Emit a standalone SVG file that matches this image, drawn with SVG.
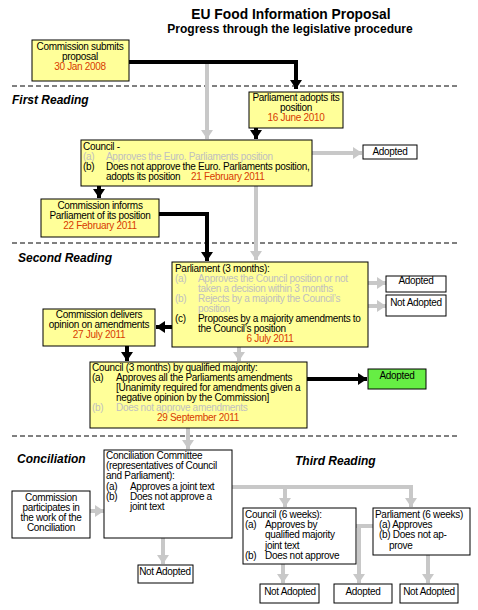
<svg xmlns="http://www.w3.org/2000/svg" width="478" height="610" viewBox="0 0 478 610">
<defs>
<style>
text{font-family:"Liberation Sans",Arial,sans-serif;font-size:10px;fill:#000;letter-spacing:-0.3px}
.t1{font-size:13.8px;font-weight:bold;letter-spacing:0}
.t2{font-size:12px;font-weight:bold;letter-spacing:0}
.sec{font-size:12px;font-weight:bold;font-style:italic;letter-spacing:0}
.c{text-anchor:middle}
.red{fill:#d83b01}
.g{fill:#c0c0c0}
.y{fill:#ffff99;stroke:#000;stroke-width:1}
.w{fill:#fff;stroke:#000;stroke-width:1}
.gr{fill:#66ee44;stroke:#000;stroke-width:1}
.bl{fill:none;stroke:#000;stroke-width:4}
.gl{fill:none;stroke:#c8c8c8;stroke-width:4}
.dash{stroke:#000;stroke-width:1;stroke-dasharray:5,3}
</style>
<marker id="ab" markerUnits="userSpaceOnUse" markerWidth="14" markerHeight="14" refX="9" refY="6" orient="auto"><path d="M0,0 L9,6 L0,12 Z" fill="#000"/></marker>
<marker id="ag" markerUnits="userSpaceOnUse" markerWidth="14" markerHeight="14" refX="9" refY="6" orient="auto"><path d="M0,0 L9,6 L0,12 Z" fill="#c8c8c8"/></marker>
</defs>
<rect width="478" height="610" fill="#fff"/>
<text class="t1 c" x="291" y="19">EU Food Information Proposal</text>
<text class="t2 c" x="290" y="33">Progress through the legislative procedure</text>
<line class="dash" x1="12" y1="86" x2="460" y2="86"/>
<line class="dash" x1="12" y1="243" x2="460" y2="243"/>
<line class="dash" x1="12" y1="436" x2="460" y2="436"/>
<text class="sec" x="12" y="104">First Reading</text>
<text class="sec" x="18" y="262">Second Reading</text>
<text class="sec" x="17" y="463">Conciliation</text>
<text class="sec" x="295" y="465">Third Reading</text>
<g id="connectors">
<path class="gl" d="M207,64 V139" marker-end="url(#ag)"/>
<path class="bl" d="M119,62 H296 V89" marker-end="url(#ab)"/>
<path class="bl" d="M256,116 V139" marker-end="url(#ab)"/>
<path class="gl" d="M312,153 H362" marker-end="url(#ag)"/>
<path class="bl" d="M99,180 V198" marker-end="url(#ab)"/>
<path class="bl" d="M155,214 H207 V261" marker-end="url(#ab)"/>
<path class="gl" d="M256,186 V260" marker-end="url(#ag)"/>
<path class="gl" d="M360,283 H386" marker-end="url(#ag)"/>
<path class="gl" d="M360,306 H386" marker-end="url(#ag)"/>
<path class="bl" d="M182,327 H156" marker-end="url(#ab)"/>
<path class="bl" d="M127,345 V361" marker-end="url(#ab)"/>
<path class="gl" d="M239,344 V361" marker-end="url(#ag)"/>
<path class="bl" d="M300,379 H367" marker-end="url(#ab)"/>
<path class="gl" d="M188,428 V449" marker-end="url(#ag)"/>
<path class="gl" d="M88,511 H104" marker-end="url(#ag)"/>
<path class="gl" d="M163,520 V564" marker-end="url(#ag)"/>
<path class="gl" d="M222,487 H411 V507" marker-end="url(#ag)"/>
<path class="gl" d="M285,487 V507" marker-end="url(#ag)"/>
<path class="gl" d="M340,526 H378"/>
<path class="gl" d="M359,526 V583" marker-end="url(#ag)"/>
<path class="gl" d="M283,564 V583" marker-end="url(#ag)"/>
<path class="gl" d="M428,537 V583" marker-end="url(#ag)"/>
</g>
<g id="n1"><rect class="y" x="32" y="40" width="97" height="41"/>
<text class="c" x="80" y="50">Commission submits</text><text class="c" x="80" y="60">proposal</text><text class="c red" x="80" y="70">30 Jan 2008</text></g>
<g id="n2"><rect class="y" x="249" y="92" width="94" height="36"/>
<text class="c" x="296" y="101">Parliament adopts its</text><text class="c" x="296" y="111">position</text><text class="c red" x="296" y="121">16 June 2010</text></g>
<g id="n3"><rect class="y" x="81" y="140" width="231" height="46"/>
<text x="83" y="150">Council  -</text>
<text class="g" x="83" y="160">(a)</text><text class="g" x="106" y="160">Approves the Euro. Parliaments position</text>
<text x="83" y="170">(b)</text><text x="106" y="170">Does not approve the Euro. Parliaments position,</text>
<text x="106" y="180">adopts its position</text><text class="red" x="191" y="180">21 February 2011</text></g>
<g id="n4"><rect class="w" x="363" y="145" width="54" height="14"/><text class="c" x="390" y="155">Adopted</text></g>
<g id="n5"><rect class="y" x="41" y="199" width="118" height="38"/>
<text class="c" x="100" y="209">Commission informs</text><text class="c" x="100" y="219">Parliament of its position</text><text class="c red" x="100" y="229">22 February 2011</text></g>
<g id="n6"><rect class="y" x="172" y="262" width="196" height="85"/>
<text x="175" y="272">Parliament (3 months):</text>
<text class="g" x="175" y="282">(a)</text><text class="g" x="198" y="282">Approves the Council position or not</text>
<text class="g" x="198" y="292">taken a decision within 3 months</text>
<text class="g" x="175" y="302">(b)</text><text class="g" x="198" y="302">Rejects by a majority the Council’s</text>
<text class="g" x="198" y="312">position</text>
<text x="175" y="322">(c)</text><text x="198" y="322">Proposes by a majority amendments to</text>
<text x="198" y="332">the Council’s position</text>
<text class="c red" x="270" y="342">6 July 2011</text></g>
<g id="n7"><rect class="w" x="386" y="276" width="60" height="16"/><text class="c" x="416" y="284">Adopted</text></g>
<g id="n8"><rect class="w" x="386" y="295" width="60" height="21"/><text class="c" x="416" y="306">Not Adopted</text></g>
<g id="n9"><rect class="y" x="43" y="309" width="112" height="37"/>
<text class="c" x="99" y="318">Commission delivers</text><text class="c" x="99" y="328">opinion on amendments</text><text class="c red" x="99" y="338">27 July 2011</text></g>
<g id="n10"><rect class="y" x="90" y="362" width="217" height="66"/>
<text x="92" y="371">Council (3 months) by qualified majority:</text>
<text x="92" y="381">(a)</text><text x="116" y="381">Approves all the Parliaments amendments</text>
<text x="116" y="391">[Unanimity required for amendments given a</text>
<text x="116" y="401">negative opinion by the Commission]</text>
<text class="g" x="92" y="411">(b)</text><text class="g" x="116" y="411">Does not approve amendments</text>
<text class="c red" x="198" y="421">29 September 2011</text></g>
<g id="n11"><rect class="gr" x="368" y="369" width="58" height="20"/><text class="c" x="397" y="379">Adopted</text></g>
<g id="n12"><rect class="w" x="104" y="450" width="128" height="88"/>
<text x="106" y="459">Conciliation Committee</text>
<text x="106" y="469">(representatives of Council</text>
<text x="106" y="479">and Parliament):</text>
<text x="106" y="490">(a)</text><text x="130" y="490">Approves a joint text</text>
<text x="106" y="500">(b)</text><text x="130" y="500">Does not approve a</text>
<text x="130" y="510">joint text</text></g>
<g id="n13"><rect class="w" x="12" y="491" width="78" height="47"/>
<text class="c" x="51" y="501">Commission</text><text class="c" x="51" y="511">participates in</text><text class="c" x="51" y="521">the work of the</text><text class="c" x="51" y="531">Conciliation</text></g>
<g id="n14"><rect class="w" x="138" y="565" width="55" height="18"/><text class="c" x="165" y="575">Not Adopted</text></g>
<g id="n15"><rect class="w" x="243" y="508" width="113" height="56"/>
<text x="245" y="518">Council (6 weeks):</text>
<text x="245" y="528">(a)</text><text x="265" y="528">Approves by</text>
<text x="265" y="538">qualified majority</text>
<text x="265" y="549">joint text</text>
<text x="245" y="559">(b)</text><text x="265" y="559">Does not approve</text></g>
<g id="n16"><rect class="w" x="373" y="508" width="97" height="47"/>
<text x="375" y="518">Parliament (6 weeks)</text>
<text x="379" y="528">(a) Approves</text>
<text x="379" y="538">(b) Does not ap-</text>
<text x="389" y="549">prove</text></g>
<g id="n17"><rect class="w" x="260" y="584" width="59" height="19"/><text class="c" x="290" y="595">Not Adopted</text></g>
<g id="n18"><rect class="w" x="334" y="584" width="58" height="19"/><text class="c" x="363" y="595">Adopted</text></g>
<g id="n19"><rect class="w" x="400" y="584" width="58" height="19"/><text class="c" x="429" y="595">Not Adopted</text></g>
</svg>
